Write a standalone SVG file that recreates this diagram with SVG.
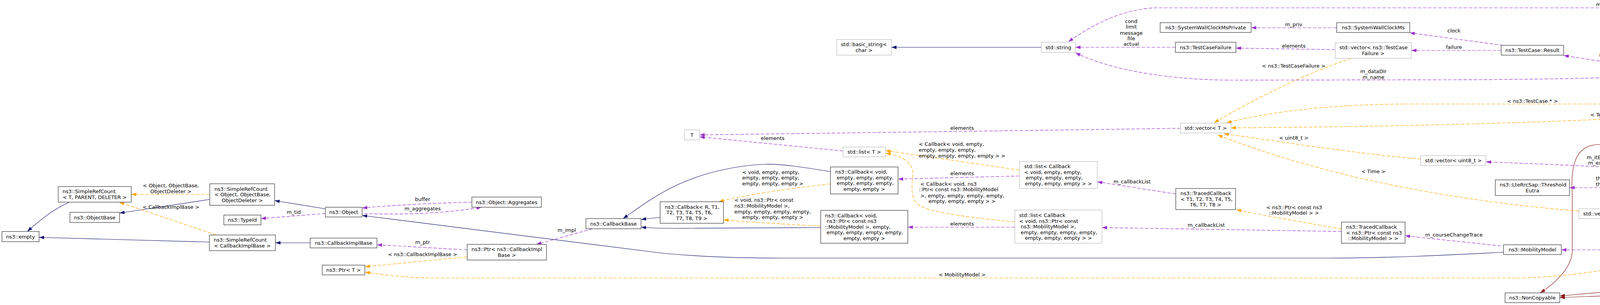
<svg xmlns="http://www.w3.org/2000/svg" width="5415" height="780" viewBox="0 0 5415 780">
<defs>
<style>
text{font-family:"DejaVu Sans","Liberation Sans",sans-serif;font-size:13px;fill:#000}
.c{text-anchor:middle}
.node rect{fill:#fff;stroke:#404040;stroke-width:1.3}
.node.g rect{stroke:#bfbfbf}
.node.h rect{fill:#bfbfbf}
#edges path{fill:none;stroke-width:1.2}
#edges .inh{stroke:#191970;marker-end:url(#aN)}
#edges .priv{stroke:#8b1a1a;marker-end:url(#aR)}
#edges .use{stroke:#9a32cd;stroke-dasharray:9,4;marker-end:url(#aP)}
#edges .tpl{stroke:#ffa500;stroke-dasharray:9,4;marker-end:url(#aO)}
</style>
<marker id="aN" markerUnits="userSpaceOnUse" markerWidth="14" markerHeight="10" refX="13" refY="4.5" orient="auto"><path d="M0,0 L13,4.5 L0,9 z" fill="#191970"/></marker>
<marker id="aR" markerUnits="userSpaceOnUse" markerWidth="14" markerHeight="10" refX="13" refY="4.5" orient="auto"><path d="M0,0 L13,4.5 L0,9 z" fill="#8b1a1a"/></marker>
<marker id="aP" markerUnits="userSpaceOnUse" markerWidth="14" markerHeight="10" refX="13" refY="4.5" orient="auto"><path d="M0,0 L13,4.5 L0,9 z" fill="#9a32cd"/></marker>
<marker id="aO" markerUnits="userSpaceOnUse" markerWidth="14" markerHeight="10" refX="13" refY="4.5" orient="auto"><path d="M0,0 L13,4.5 L0,9 z" fill="#ffa500"/></marker>
</defs>
<rect x="0" y="0" width="5415" height="780" fill="#fff"/>

<g id="edges">
<path class="inh" d="M176,518 C140,533 105,560 70,592"/>
<path class="inh" d="M536,619 L100,607"/>
<path class="inh" d="M537,510 L306,545"/>
<path class="inh" d="M833,534 L703,513"/>
<path class="inh" d="M794,621 L705,621"/>
<path class="inh" d="M3849,645 C3700,653 3550,660 3400,660 L2000,660 C1900,660 1800,657 1700,648 L927,551"/>
<path class="inh" d="M1690,556 L1641,561"/>
<path class="inh" d="M2126,439 C2060,428 2000,419 1960,420 C1880,423 1800,443 1740,470 C1680,497 1640,528 1595,559"/>
<path class="inh" d="M2101,582 L1720,584 C1690,584 1665,583 1641,581"/>
<path class="inh" d="M4669,157 C4560,155 4450,165 4375,178"/>
<path class="inh" d="M4697,460 L4350,204"/>
<path class="inh" d="M2666,121 L2282,121"/>
<path class="inh" d="M5318,139 L4748,706"/>
<path class="priv" d="M4317,204 C4280,260 4220,340 4160,364 C4115,374 4075,360 4048,386 C4026,408 4022,450 4025,500 L4025,640 C4025,682 3985,722 3943,749"/>
<path class="priv" d="M4249,734 L3993,757"/>
<path class="priv" d="M4625,737 L3993,761"/>

<path class="use" d="M1208,517 C1100,520 1000,525 927,532"/>
<path class="use" d="M932,546 C1000,549 1120,549 1233,530"/>
<path class="use" d="M833,546 L668,559"/>
<path class="use" d="M1196,639 L965,626"/>
<path class="use" d="M1517,585 L1373,625"/>
<path class="use" d="M3022,328 C2700,333 2300,338 1791,345"/>
<path class="use" d="M2158,386 L1791,350"/>
<path class="use" d="M2610,450 L2299,458"/>
<path class="use" d="M2598,581 L2324,581"/>
<path class="use" d="M3010,496 L2809,465"/>
<path class="use" d="M3434,592 L2821,582"/>
<path class="use" d="M5310,113 C5220,68 5130,20 5062,20 L2960,20 C2880,22 2800,60 2735,107"/>
<path class="use" d="M3009,121 L2753,121"/>
<path class="use" d="M4262,194 C4100,200 3900,204 3700,204 L3150,205 C3000,204 2850,182 2753,135"/>
<path class="use" d="M3422,71 L3203,71"/>
<path class="use" d="M3418,127 L3164,123"/>
<path class="use" d="M3848,116 L3609,84"/>
<path class="use" d="M3843,129 L3613,129"/>
<path class="use" d="M4262,182 L4003,142"/>
<path class="use" d="M4362,178 C4358,160 4340,150 4320,151 C4300,152 4288,162 4290,178"/>
<path class="use" d="M4372,178 C4420,150 4480,136 4600,133 L5254,127"/>
<path class="use" d="M4623,209 C4560,202 4480,197 4381,193"/>
<path class="use" d="M4372,204 C4420,214 4480,224 4615,228"/>
<path class="use" d="M5254,139 L5143,152"/>
<path class="use" d="M4952,160 L4782,160"/>
<path class="use" d="M4612,463 C4400,440 4100,425 3804,414"/>
<path class="use" d="M4220,480 L4018,480"/>
<path class="use" d="M4613,480 L4431,480"/>
<path class="use" d="M4647,501 C4580,515 4450,537 4300,545 L4196,550"/>
<path class="use" d="M4705,501 C4660,540 4600,570 4500,608 C4470,618 4445,625 4422,629"/>
<path class="use" d="M4228,639 L3997,639"/>
<path class="use" d="M3842,629 L3597,603"/>

<path class="tpl" d="M537,497 L336,497"/>
<path class="tpl" d="M553,601 L305,517"/>
<path class="tpl" d="M1196,657 L934,682"/>
<path class="tpl" d="M4278,652 C4200,672 4100,702 3900,711 L1100,711 C1030,710 980,702 934,696"/>
<path class="tpl" d="M2126,470 C2000,485 1900,500 1840,516"/>
<path class="tpl" d="M2101,578 C2000,573 1900,567 1852,562"/>
<path class="tpl" d="M2610,435 L2267,385"/>
<path class="tpl" d="M2598,568 C2450,552 2370,542 2347,520 C2330,503 2335,470 2337,445 C2339,412 2300,396 2267,392"/>
<path class="tpl" d="M3460,149 C3380,175 3250,230 3108,314"/>
<path class="tpl" d="M4645,236 C4580,250 4480,262 4300,266 L3600,266 C3420,267 3260,283 3140,314"/>
<path class="tpl" d="M5023,173 C4950,200 4800,250 4500,280 C4200,305 3800,322 3151,327"/>
<path class="tpl" d="M3637,407 C3450,390 3300,365 3133,342"/>
<path class="tpl" d="M4042,540 Q3500,494 3117,345"/>
<path class="tpl" d="M3434,586 C3350,570 3250,555 3165,536"/>
<path class="tpl" d="M4625,726 L4401,726"/>

<g id="edge-labels">
<text class="c" x="437.5" y="478.5">&lt; Object, ObjectBase,</text>
<text class="c" x="437.5" y="493.5">ObjectDeleter &gt;</text>
<text class="c" x="437.5" y="533.5">&lt; CallbackImplBase &gt;</text>
<text class="c" x="752" y="546.5">m_tid</text>
<text class="c" x="1082" y="513.5">buffer</text>
<text class="c" x="1082" y="537.5">m_aggregates</text>
<text class="c" x="1082" y="623.5">m_ptr</text>
<text class="c" x="1082" y="654.5">&lt; ns3::CallbackImplBase &gt;</text>
<text class="c" x="1451" y="592.5">m_impl</text>
<text class="c" x="1978" y="357.5">elements</text>
<text x="1900" y="444.5">&lt; void, empty, empty,</text>
<text x="1900" y="458.5">empty, empty, empty,</text>
<text x="1900" y="473.5">empty, empty, empty &gt;</text>
<text x="1880" y="515.5">&lt; void, ns3::Ptr&lt; const</text>
<text x="1880" y="530.5">ns3::MobilityModel &gt;,</text>
<text x="1880" y="545.5">empty, empty, empty, empty,</text>
<text x="1900" y="559.5">empty, empty, empty &gt;</text>
<text class="c" x="2463" y="331.5">elements</text>
<text x="2352" y="372.5">&lt; Callback&lt; void, empty,</text>
<text x="2352" y="387.5">empty, empty, empty,</text>
<text x="2352" y="402.5">empty, empty, empty, empty &gt; &gt;</text>
<text class="c" x="2463" y="447.5">elements</text>
<text x="2356" y="474.5">&lt; Callback&lt; void, ns3</text>
<text x="2352" y="488.5">::Ptr&lt; const ns3::MobilityModel</text>
<text x="2356" y="504.5">&gt;, empty, empty, empty, empty,</text>
<text x="2377" y="518.5">empty, empty, empty &gt; &gt;</text>
<text class="c" x="2463" y="576.5">elements</text>
<text class="c" x="2463" y="706.5">&lt; MobilityModel &gt;</text>
<text class="c" x="2896" y="58.5">cond</text>
<text class="c" x="2896" y="72.5">limit</text>
<text class="c" x="2896" y="88.5">message</text>
<text class="c" x="2896" y="102.5">file</text>
<text class="c" x="2896" y="116.5">actual</text>
<text class="c" x="2898" y="468.5">m_callbackList</text>
<text class="c" x="3088" y="579.5">m_callbackList</text>
<text class="c" x="3312" y="66.5">m_priv</text>
<text class="c" x="3312" y="121.5">elements</text>
<text class="c" x="3312" y="172.5">&lt; ns3::TestCaseFailure &gt;</text>
<text class="c" x="3516" y="186.5">m_dataDir</text>
<text class="c" x="3516" y="201.5">m_name</text>
<text class="c" x="3312" y="356.5">&lt; uint8_t &gt;</text>
<text class="c" x="3516" y="442.5">&lt; Time &gt;</text>
<text class="c" x="3313" y="534.5">&lt; ns3::Ptr&lt; const ns3</text>
<text class="c" x="3312" y="548.5">::MobilityModel &gt; &gt;</text>
<text class="c" x="3722" y="82.5">clock</text>
<text class="c" x="3722" y="124.5">failure</text>
<text class="c" x="3923" y="262.5">&lt; ns3::TestCase * &gt;</text>
<text class="c" x="3722" y="604.5">m_courseChangeTrace</text>
<text class="c" x="4122" y="15.5">m_tempDir</text>
<text class="c" x="4122" y="144.5">m_result</text>
<text class="c" x="4327" y="149.5">m_parent</text>
<text class="c" x="4121" y="297.5">&lt; TestSuite * &gt;</text>
<text class="c" x="4121" y="406.5">m_itExpectedRsrp</text>
<text class="c" x="4120" y="420.5">m_expectedRsrp</text>
<text class="c" x="4120" y="460.5">threshold1</text>
<text class="c" x="4120" y="475.5">threshold2</text>
<text class="c" x="4327" y="523.5">m_expectedTime</text>
<text class="c" x="4325" y="538.5">m_itExpectedTime</text>
<text class="c" x="4121" y="635.5">m_ptr</text>
<text class="c" x="4524" y="722.5">&lt; TestRunnerImpl &gt;</text>
<text class="c" x="4524" y="192.5">elements</text>
<text class="c" x="4524" y="216.5">m_children</text>
<text class="c" x="4524" y="476.5">m_config</text>
<text class="c" x="4524" y="584.5">m_ueMobility</text>
<text class="c" x="4897" y="126.5">m_runner</text>
<text class="c" x="4896" y="156.5">elements</text>
<text class="c" x="5200" y="138.5">m_suites</text>
</g>
</g>

<g id="n_empty" class="node"><rect x="5" y="592" width="95" height="26"/><text class="c" x="52.5" y="609.5">ns3::empty</text></g>
<g id="n_src_t" class="node"><rect x="149" y="477" width="187" height="40"/><text x="160" y="494.25">ns3::SimpleRefCount</text><text class="c" x="242.5" y="508.75">&lt; T, PARENT, DELETER &gt;</text></g>
<g id="n_objectbase" class="node"><rect x="179" y="543" width="127" height="26"/><text class="c" x="242.5" y="560.5">ns3::ObjectBase</text></g>
<g id="n_src_obj" class="node"><rect x="537" y="470" width="166" height="55"/><text x="549" y="487.5">ns3::SimpleRefCount</text><text x="549" y="502">&lt; Object, ObjectBase,</text><text class="c" x="620" y="516.5">ObjectDeleter &gt;</text></g>
<g id="n_typeid" class="node"><rect x="573" y="550" width="95" height="25"/><text class="c" x="620.5" y="567">ns3::TypeId</text></g>
<g id="n_src_cib" class="node"><rect x="536" y="601" width="169" height="40"/><text x="547" y="618.25">ns3::SimpleRefCount</text><text class="c" x="620.5" y="632.75">&lt; CallbackImplBase &gt;</text></g>
<g id="n_object" class="node"><rect x="833" y="530" width="94" height="25"/><text class="c" x="880" y="547">ns3::Object</text></g>
<g id="n_cib" class="node"><rect x="794" y="609" width="171" height="25"/><text class="c" x="879.5" y="626">ns3::CallbackImplBase</text></g>
<g id="n_ptr_t" class="node"><rect x="825" y="678" width="109" height="25"/><text class="c" x="879.5" y="695">ns3::Ptr&lt; T &gt;</text></g>
<g id="n_aggregates" class="node"><rect x="1208" y="504" width="178" height="26"/><text class="c" x="1297" y="521.5">ns3::Object::Aggregates</text></g>
<g id="n_ptr_cib" class="node"><rect x="1196" y="625" width="203" height="40"/><text x="1207" y="642.25">ns3::Ptr&lt; ns3::CallbackImpl</text><text class="c" x="1297.5" y="656.75">Base &gt;</text></g>
<g id="n_callbackbase" class="node"><rect x="1500" y="559" width="141" height="26"/><text class="c" x="1570.5" y="576.5">ns3::CallbackBase</text></g>
<g id="n_T" class="node g"><rect x="1752" y="332" width="39" height="26"/><text class="c" x="1771.5" y="349.5">T</text></g>
<g id="n_callback_r" class="node"><rect x="1690" y="516" width="162" height="55"/><text x="1702" y="533.5">ns3::Callback&lt; R, T1,</text><text x="1706" y="548">T2, T3, T4, T5, T6,</text><text class="c" x="1771" y="562.5">T7, T8, T9 &gt;</text></g>
<g id="n_callback_void" class="node"><rect x="2126" y="427" width="173" height="69"/><text x="2138" y="444.25">ns3::Callback&lt; void,</text><text x="2142" y="458.75">empty, empty, empty,</text><text x="2142" y="473.25">empty, empty, empty,</text><text class="c" x="2212.5" y="487.75">empty, empty &gt;</text></g>
<g id="n_callback_mob" class="node"><rect x="2101" y="538" width="223" height="84"/><text x="2112" y="555.5">ns3::Callback&lt; void,</text><text x="2116" y="570">ns3::Ptr&lt; const ns3</text><text x="2112" y="584.5">::MobilityModel &gt;, empty,</text><text x="2116" y="599">empty, empty, empty, empty,</text><text class="c" x="2212.5" y="613.5">empty, empty &gt;</text></g>
<g id="n_list_t" class="node g"><rect x="2158" y="376" width="109" height="25"/><text class="c" x="2212.5" y="393">std::list&lt; T &gt;</text></g>
<g id="n_basic_string" class="node g"><rect x="2142" y="101" width="140" height="40"/><text x="2153" y="118.25">std::basic_string&lt;</text><text class="c" x="2212" y="132.75">char &gt;</text></g>
<g id="n_string" class="node g"><rect x="2666" y="108" width="87" height="26"/><text class="c" x="2709.5" y="125.5">std::string</text></g>
<g id="n_list_cb_void" class="node g"><rect x="2610" y="413" width="199" height="69"/><text x="2622" y="430.25">std::list&lt; Callback</text><text x="2622" y="444.75">&lt; void, empty, empty,</text><text x="2626" y="459.25">empty, empty, empty,</text><text class="c" x="2709.5" y="473.75">empty, empty, empty &gt; &gt;</text></g>
<g id="n_list_cb_mob" class="node g"><rect x="2598" y="537" width="223" height="85"/><text x="2609" y="555">std::list&lt; Callback</text><text x="2609" y="569.5">&lt; void, ns3::Ptr&lt; const</text><text x="2613" y="584">ns3::MobilityModel &gt;,</text><text x="2613" y="598.5">empty, empty, empty, empty,</text><text class="c" x="2709.5" y="613">empty, empty, empty &gt; &gt;</text></g>
<g id="n_swcmp" class="node"><rect x="2970" y="58" width="233" height="25"/><text class="c" x="3086.5" y="75">ns3::SystemWallClockMsPrivate</text></g>
<g id="n_tcfailure" class="node"><rect x="3009" y="108" width="155" height="26"/><text class="c" x="3086.5" y="125.5">ns3::TestCaseFailure</text></g>
<g id="n_vector_t" class="node g"><rect x="3022" y="315" width="129" height="25"/><text class="c" x="3086.5" y="332">std::vector&lt; T &gt;</text></g>
<g id="n_traced_t" class="node"><rect x="3010" y="482" width="153" height="54"/><text x="3022" y="499">ns3::TracedCallback</text><text x="3022" y="513.5">&lt; T1, T2, T3, T4, T5,</text><text class="c" x="3086.5" y="528">T6, T7, T8 &gt;</text></g>
<g id="n_swcms" class="node"><rect x="3422" y="58" width="187" height="25"/><text class="c" x="3515.5" y="75">ns3::SystemWallClockMs</text></g>
<g id="n_vector_tcf" class="node g"><rect x="3418" y="109" width="195" height="40"/><text x="3429" y="126.25">std::vector&lt; ns3::TestCase</text><text class="c" x="3515.5" y="140.75">Failure &gt;</text></g>
<g id="n_traced_mob" class="node"><rect x="3434" y="568" width="163" height="54"/><text x="3446" y="585">ns3::TracedCallback</text><text x="3446" y="599.5">&lt; ns3::Ptr&lt; const ns3</text><text class="c" x="3515.5" y="614">::MobilityModel &gt; &gt;</text></g>
<g id="n_result" class="node"><rect x="3843" y="116" width="160" height="25"/><text class="c" x="3923" y="133">ns3::TestCase::Result</text></g>
<g id="n_vector_u8" class="node g"><rect x="3637" y="398" width="167" height="25"/><text class="c" x="3720.5" y="415">std::vector&lt; uint8_t &gt;</text></g>
<g id="n_threshold" class="node"><rect x="3828" y="460" width="190" height="40"/><text x="3839" y="477.25">ns3::LteRrcSap::Threshold</text><text class="c" x="3923" y="491.75">Eutra</text></g>
<g id="n_mobility" class="node"><rect x="3849" y="626" width="148" height="25"/><text class="c" x="3923" y="643">ns3::MobilityModel</text></g>
<g id="n_noncopyable" class="node"><rect x="3853" y="749" width="140" height="25"/><text class="c" x="3923" y="766">ns3::NonCopyable</text></g>
<g id="n_testcase" class="node"><rect x="4269" y="178" width="112" height="25"/><text class="c" x="4325" y="195">ns3::TestCase</text></g>
<g id="n_reportconfig" class="node"><rect x="4220" y="460" width="211" height="40"/><text x="4232" y="477.25">ns3::LteRrcSap::ReportConfig</text><text class="c" x="4325.5" y="491.75">Eutra</text></g>
<g id="n_vector_time" class="node g"><rect x="4042" y="534" width="154" height="25"/><text class="c" x="4119" y="551">std::vector&lt; Time &gt;</text></g>
<g id="n_ptr_mob" class="node"><rect x="4228" y="626" width="194" height="25"/><text class="c" x="4325" y="643">ns3::Ptr&lt; MobilityModel &gt;</text></g>
<g id="n_singleton_t" class="node"><rect x="4249" y="714" width="152" height="25"/><text class="c" x="4325" y="731">ns3::Singleton&lt; T &gt;</text></g>
<g id="n_testsuite" class="node"><rect x="4669" y="147" width="113" height="26"/><text class="c" x="4725.5" y="164.5">ns3::TestSuite</text></g>
<g id="n_vector_tc" class="node g"><rect x="4615" y="210" width="222" height="25"/><text class="c" x="4726" y="227">std::vector&lt; ns3::TestCase * &gt;</text></g>
<g id="n_lteue" class="node h"><rect x="4614" y="460" width="223" height="40"/><text x="4626" y="477.25">LteUeMeasurementsPiecewise</text><text class="c" x="4725.5" y="491.75">TestCase2</text></g>
<g id="n_singleton_tri" class="node"><rect x="4625" y="706" width="202" height="40"/><text x="4637" y="723.25">ns3::Singleton&lt; TestRunner</text><text class="c" x="4726" y="737.75">Impl &gt;</text></g>
<g id="n_vector_ts" class="node g"><rect x="4952" y="147" width="191" height="26"/><text class="c" x="5047.5" y="164.5">std::vector&lt; TestSuite * &gt;</text></g>
<g id="n_testrunnerimpl" class="node"><rect x="5254" y="114" width="155" height="25"/><text class="c" x="5331.5" y="131">ns3::TestRunnerImpl</text></g>
</svg>
